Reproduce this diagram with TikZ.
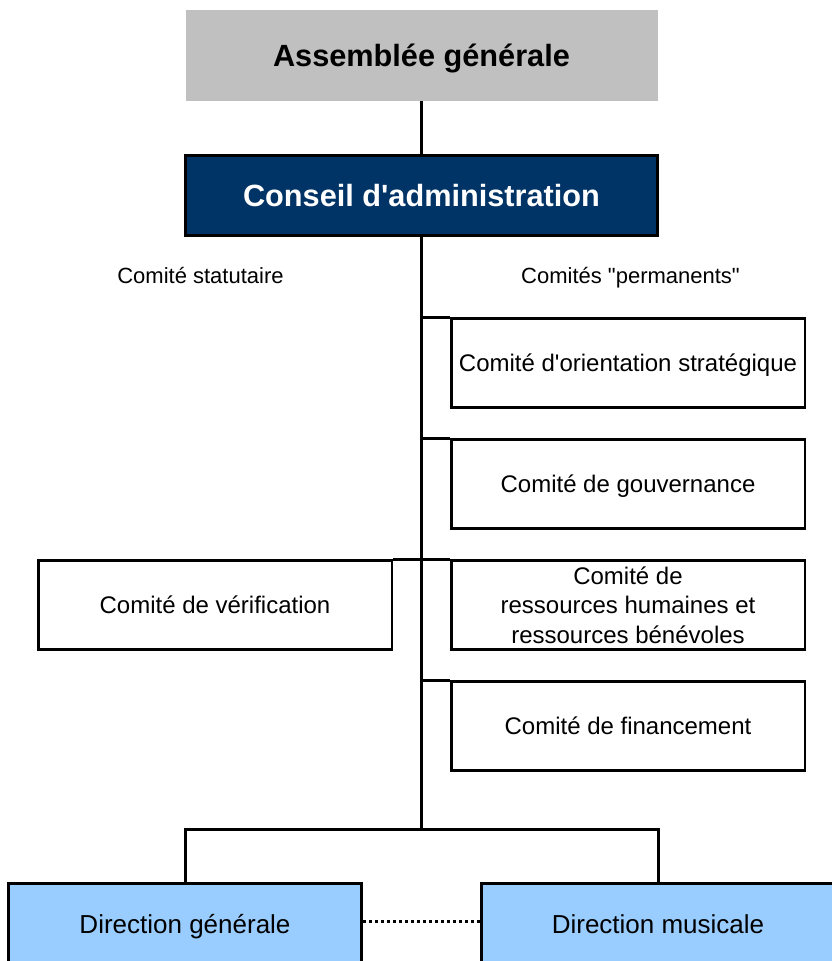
\documentclass[tikz,border=0pt]{standalone}
\usepackage{fontspec}
\setmainfont{Liberation Sans}[Ligatures=TeXOff]
\definecolor{agGray}{HTML}{C0C0C0}
\definecolor{caNavy}{HTML}{003366}
\definecolor{dirBlue}{HTML}{99CCFF}
\begin{document}
\begin{tikzpicture}[x=1pt,y=-1pt,
  link/.style={draw=black, line width=3pt},
  dotlink/.style={draw=black, line width=3pt, dash pattern=on 3pt off 3pt},
  bigfont/.style={font=\fontsize{30.7}{36}\selectfont\bfseries},
  topbox/.style={bigfont, inner sep=0pt, minimum width=472pt, text height=21.5pt, text depth=0pt},
  cbox/.style={draw=black, line width=2.5pt, fill=white, inner sep=0pt,
    minimum width=353.5pt, minimum height=89pt,
    font=\fontsize{24}{29.5}\selectfont},
  onel/.style={text height=17pt, text depth=0pt},
  dirbox/.style={draw=black, line width=3pt, fill=dirBlue, inner sep=0pt,
    minimum width=353pt, minimum height=82pt, text height=18.5pt, text depth=0pt,
    font=\fontsize{26}{31}\selectfont},
  hdr/.style={inner sep=0pt, font=\fontsize{22}{26}\selectfont, text height=15.5pt, text depth=0pt}
]
\useasboundingbox (0,0) rectangle (831,961);

\node[topbox, fill=agGray, minimum height=91pt] (AG) at (421.5,55.5) {Assemblée générale};
\node[topbox, fill=caNavy, draw=black, line width=3pt, text=white, minimum height=80pt] (CA) at (421.5,195.5) {Conseil d'administration};

\node[hdr] (hstat) at (200.5,276) {Comité statutaire};
\node[hdr] (hperm) at (630.5,276) {Comités "permanents"};

\node[cbox, onel] (b1) at (628,363) {Comité d'orientation stratégique};
\node[cbox, onel] (b2) at (628,484) {Comité de gouvernance};
\node[cbox, align=center] (b3) at (628,605) {Comité de\\ressources humaines et\\ressources bénévoles};
\node[cbox, onel] (b4) at (628,726) {Comité de financement};
\node[cbox, onel] (vb) at (215,605) {Comité de vérification};

\node[dirbox] (DG) at (185,924) {Direction générale};
\node[dirbox] (DM) at (658,924) {Direction musicale};

\coordinate (split) at (421.5,829);

\draw[link] (AG.south) -- (CA.north);
\draw[link] (CA.south) -- (split);
\draw[link] (CA.south |- b1.north west) -- (b1.north west);
\draw[link] (CA.south |- b2.north west) -- (b2.north west);
\draw[link] (CA.south |- b3.north west) -- (b3.north west);
\draw[link] (CA.south |- b4.north west) -- (b4.north west);
\draw[link] (vb.north east) -- (CA.south |- vb.north east);
\draw[link] (DG.north) |- (split) -| (DM.north);
\draw[dotlink] ([yshift=3pt]DG.east) -- ([yshift=3pt]DM.west);
\end{tikzpicture}
\end{document}
